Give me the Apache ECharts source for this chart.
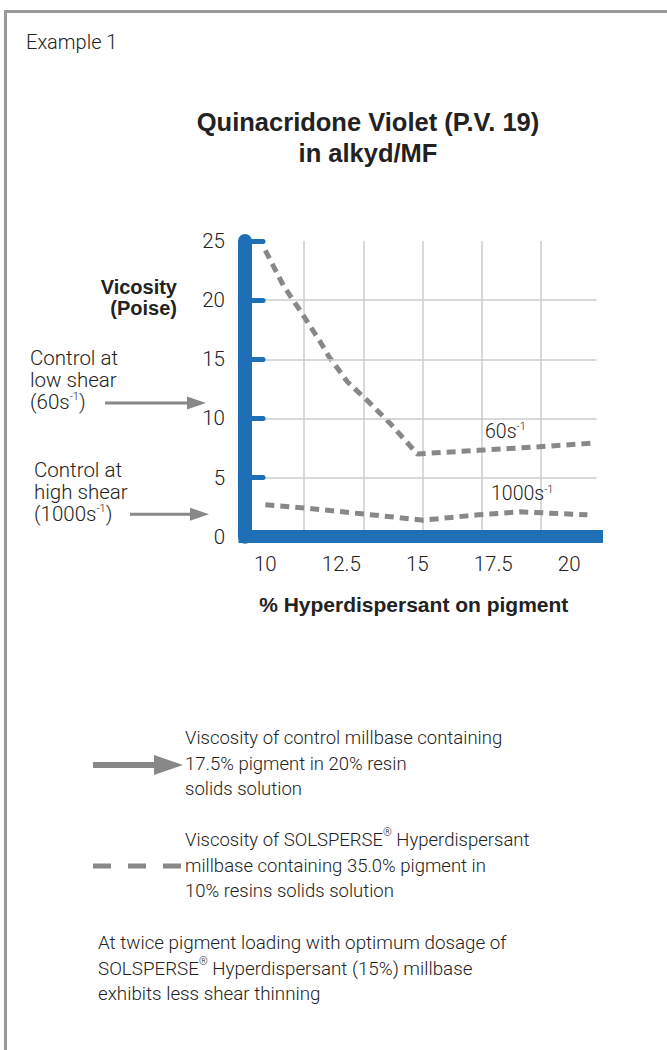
<!DOCTYPE html>
<html>
<head>
<meta charset="utf-8">
<script src="https://cdn.jsdelivr.net/npm/echarts@6/dist/echarts.min.js"></script>
<style>
  html, body { margin: 0; padding: 0; background: #fff; }
  #chart { width: 667px; height: 1050px; }
</style>
</head>
<body>
<div id="chart"></div>
<script>
// values
const xPct60 = [10, 10.6, 11.2, 11.8, 12.1, 12.7, 13.4, 14.1, 15, 17, 19, 20.7]
const visc60 = [24.2, 21.2, 18.9, 16.5, 15.2, 13.1, 11.4, 9.6, 7.0, 7.3, 7.6, 7.9]
const xPct1000 = [10, 11.4, 13.3, 15.2, 17, 18.4, 20.6]
const visc1000 = [2.7, 2.4, 1.9, 1.4, 1.85, 2.1, 1.85]
const xTickLabels = [10, 12.5, 15, 17.5, 20]
const controlVisc = [11.3, 1.9]   // control millbase at 60s-1 / 1000s-1

const BLUE = '#1f6fb6'
const GRAY = '#888888'
const TXT = '#222'
const FONT = 'Roboto, "Liberation Sans", sans-serif'
const BOLD = '"Liberation Sans", Arial, sans-serif'

const chart = echarts.init(document.getElementById('chart'), null, { renderer: 'svg' })

const supStyle = { fontSize: 11, fontFamily: FONT, fontWeight: 300, verticalAlign: 'top', fill: TXT, color: TXT }

function pairs(xs, ys) {
  return xs.map((x, i) => [x, ys[i]])
}

function curveLabel(text, offset) {
  return {
    show: true, position: 'top', align: 'left', offset: offset,
    formatter: text + '{sup|-1}', fontSize: 19.5, fontFamily: FONT, fontWeight: 300, color: TXT,
    rich: { sup: { fontSize: 11, fontFamily: FONT, fontWeight: 300, verticalAlign: 'top', color: TXT } }
  }
}

const data60 = pairs(xPct60, visc60).map(p =>
  p[0] === 17 ? { value: p, label: curveLabel('60s', [7, -4]) } : p)
const data1000 = pairs(xPct1000, visc1000).map(p =>
  p[0] === 17 ? { value: p, label: curveLabel('1000s', [13, -6]) } : p)

const dashLine = { color: GRAY, width: 5, type: [9, 6] }
const gridLine = { color: '#cccccc', width: 1.5 }

chart.setOption({
  animation: false,
  title: {
    text: 'Quinacridone Violet (P.V. 19)\nin alkyd/MF',
    left: 363, top: 101, textAlign: 'center',
    textStyle: { fontSize: 25.5, fontWeight: 'bold', fontFamily: BOLD, color: TXT, lineHeight: 31.6 }
  },
  grid: { left: 245, right: 667 - 596.5, top: 241, bottom: 1050 - 536.7 },
  xAxis: [
    {
      type: 'value', min: 9.33, max: 20.9,
      axisLine: { lineStyle: { color: BLUE, width: 13, cap: 'square' } },
      axisTick: { show: false },
      splitLine: { show: false },
      axisLabel: {
        customValues: xTickLabels, margin: 17,
        fontSize: 20.5, fontFamily: FONT, fontWeight: 300, color: TXT
      },
      name: '% Hyperdispersant on pigment', nameLocation: 'middle', nameGap: 57,
      nameTextStyle: { fontSize: 21, fontWeight: 'bold', fontFamily: BOLD, color: TXT, padding: [0, 14, 0, 0] },
      z: 5
    },
    {
      // decorative vertical grid, spaced as in the reference
      type: 'value', min: 0, max: 5.94, interval: 1,
      axisLine: { show: false }, axisTick: { show: false }, axisLabel: { show: false },
      splitLine: { show: true, showMinLine: false, showMaxLine: false, lineStyle: gridLine }
    }
  ],
  yAxis: {
    type: 'value', min: 0, max: 25, interval: 5,
    axisLine: { show: true, lineStyle: { color: BLUE, width: 14 } },
    axisTick: { show: true, inside: true, length: 18, lineStyle: { color: BLUE, width: 5, cap: 'round' } },
    axisLabel: { margin: 20, fontSize: 20.5, fontFamily: FONT, fontWeight: 300, color: TXT },
    splitLine: { show: true, showMinLine: false, showMaxLine: false, lineStyle: gridLine },
    z: 5
  },
  series: [
    {
      name: '60s-1', type: 'line', xAxisIndex: 0, data: data60,
      symbolSize: 0, showSymbol: true, lineStyle: dashLine, z: 3
    },
    {
      name: '1000s-1', type: 'line', xAxisIndex: 0, data: data1000,
      symbolSize: 0, showSymbol: true, lineStyle: dashLine, z: 3
    }
  ]
})

function arrow(x1, x2, y, shaft, headLen, headH) {
  return [
    { type: 'line', shape: { x1: x1, y1: y, x2: x2 - headLen + 1, y2: y }, style: { stroke: GRAY, lineWidth: shaft } },
    { type: 'polygon', shape: { points: [[x2 - headLen, y - headH / 2], [x2, y], [x2 - headLen, y + headH / 2]] }, style: { fill: GRAY } }
  ]
}

function txt(text, x, y, opts) {
  return {
    type: 'text', z: 10,
    style: Object.assign({
      text: text, x: x, y: y,
      fontSize: 18.5, fontFamily: FONT, fontWeight: 300, fill: TXT,
      textAlign: 'left', textVerticalAlign: 'middle', lineHeight: 22,
      rich: { sup: supStyle }
    }, opts || {})
  }
}

function drawGraphics() {
  const yLow = chart.convertToPixel({ yAxisIndex: 0 }, controlVisc[0])
  const yHigh = chart.convertToPixel({ yAxisIndex: 0 }, controlVisc[1])

  const els = [
    // frame
    { type: 'line', shape: { x1: 5.5, y1: 11.5, x2: 667, y2: 11.5 }, style: { stroke: '#999', lineWidth: 3 } },
    { type: 'line', shape: { x1: 5.5, y1: 10, x2: 5.5, y2: 1050 }, style: { stroke: '#999', lineWidth: 3 } },
    txt('Example 1', 26, 42, { fontSize: 20 }),

    txt('Vicosity\n(Poise)', 177, 297, { fontFamily: BOLD, fontWeight: 'bold', fontSize: 20, textAlign: 'right', lineHeight: 21 }),

    txt('Control at\nlow shear\n(60s{sup|-1})', 30, yLow - 23, { fontSize: 20.5 }),
    txt('Control at\nhigh shear\n(1000s{sup|-1})', 34, yHigh - 22, { fontSize: 20.5 }),
    ...arrow(105, 206, yLow, 3, 19, 13),
    ...arrow(130, 209, yHigh, 3, 19, 13),

    // legend
    ...arrow(93, 183, 765, 6, 29, 20),
    txt('Viscosity of control millbase containing\n17.5% pigment in 20% resin\nsolids solution', 185, 763.5, { lineHeight: 25.5 }),
    { type: 'line', shape: { x1: 93, y1: 866, x2: 183, y2: 866 }, style: { stroke: GRAY, lineWidth: 5, lineDash: [18, 17] } },
    txt('Viscosity of SOLSPERSE{sup|®} Hyperdispersant\nmillbase containing 35.0% pigment in\n10% resins solids solution', 185, 865.5, { lineHeight: 25.5 }),

    txt('At twice pigment loading with optimum dosage of\nSOLSPERSE{sup|®} Hyperdispersant (15%) millbase\nexhibits less shear thinning', 98, 968.5, { lineHeight: 25.8, fontSize: 18.8 })
  ]
  chart.setOption({ graphic: { elements: els } })
}

drawGraphics()
</script>
</body>
</html>
